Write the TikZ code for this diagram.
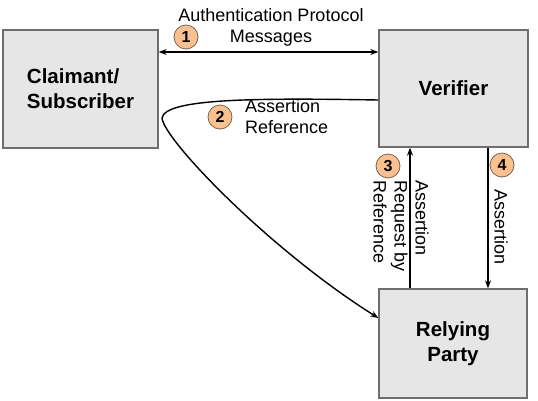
\documentclass[tikz,border=0pt]{standalone}
\usepackage{fontspec}
\setmainfont{Liberation Sans}
\usetikzlibrary{arrows.meta}
\definecolor{boxfill}{RGB}{230,230,230}
\definecolor{boxline}{RGB}{110,110,110}
\definecolor{badgefill}{RGB}{250,192,143}
\definecolor{badgeline}{RGB}{120,100,80}
\begin{document}
\begin{tikzpicture}[x=1pt,y=-1pt,
  entity/.style={draw=boxline,fill=boxfill,line width=1.3pt,inner sep=0pt,
    font=\fontsize{20.5}{25}\selectfont\bfseries,align=left},
  badge/.style={circle,draw=badgeline,fill=badgefill,line width=0.8pt,
    minimum size=24pt,inner sep=0pt,font=\fontsize{16}{16}\selectfont\bfseries},
  lbl/.style={font=\fontsize{18}{21}\selectfont,inner sep=0pt},
  conn/.style={line width=1.4pt,-{Stealth[length=8pt,width=6pt]}},
  conn2/.style={line width=1.4pt,{Stealth[length=8pt,width=6pt]}-{Stealth[length=8pt,width=6pt]}}]
\useasboundingbox (0,0) rectangle (538,400);
\node[entity,minimum width=155pt,minimum height=118pt] (cl) at (80.5,89) {Claimant/\\Subscriber};
\node[entity,minimum width=149pt,minimum height=117pt] (ver) at (453.5,88.5) {Verifier};
\node[entity,minimum width=148pt,minimum height=109pt,align=center] (rp) at (453,343.5) {Relying\\Party};
% 1
\draw[conn2] (cl.east |- 0,52) coordinate (a1) -- (ver.west |- a1) coordinate (b1);
\node[lbl,align=center] (t1) at (271,27) {Authentication Protocol\\Messages};
\node[badge] (n1) at (186,37) {1};
% 2
\coordinate (s2) at (ver.west |- 0,100);
\coordinate (m2) at (162,118);
\coordinate (e2) at (rp.west |- 0,318);
\draw[conn] (s2) .. controls (260,98) and (165,98) .. (m2)
  .. controls (164,140) and (270,250) .. (e2);
\node[badge] (n2) at (220,117) {2};
\node[lbl,anchor=west,align=left] (t2) at (245,117) {Assertion\\Reference};
% 3
\draw[conn] (rp.north -| 410,0) -- (ver.south -| 410,0);
\node[badge] (n3) at (388,166) {3};
\node[lbl,rotate=-90,align=left] (t3) at (401,226) {Assertion\\Request by\\Reference};
% 4
\draw[conn] (ver.south -| 488,0) -- (rp.north -| 488,0);
\node[badge] (n4) at (502,165) {4};
\node[lbl,rotate=-90] (t4) at (501,227) {Assertion};
\end{tikzpicture}
\end{document}
